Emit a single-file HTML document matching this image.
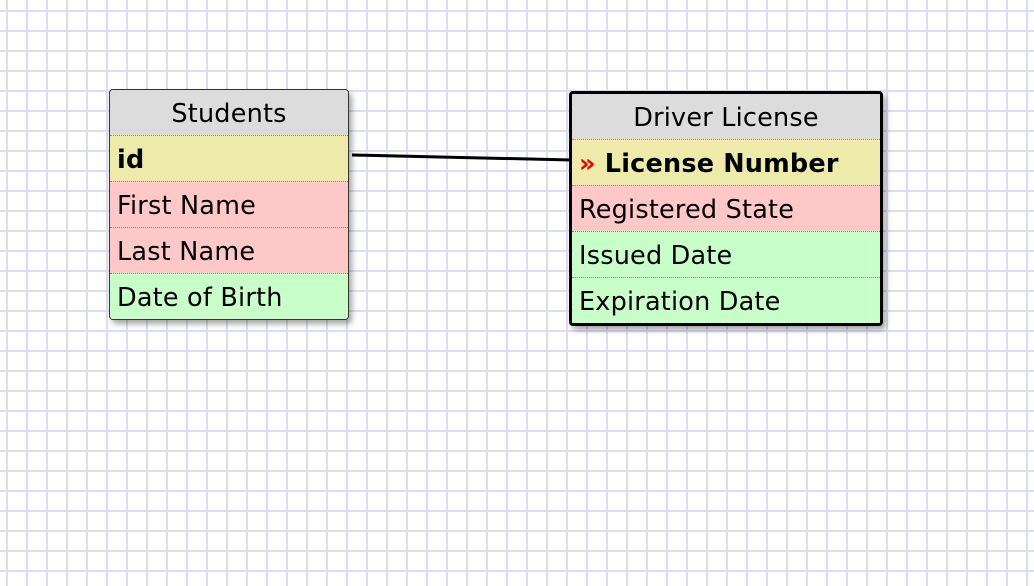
<!DOCTYPE html>
<html><head><style>
body{margin:0;width:1034px;height:586px;overflow:hidden;background-color:#fff;
background-image:linear-gradient(to right,#dcdcf6 2px,transparent 2px),linear-gradient(to bottom,#dcdcf6 2px,transparent 2px);
background-size:20px 20px;background-position:6px 10px;font-family:"DejaVu Sans","Liberation Sans",sans-serif;position:relative}
.t{position:absolute;background:#fff;border-radius:4px;box-shadow:3px 4px 6px rgba(0,0,0,.35);overflow:hidden}
.h{background:#dcdcdc;text-align:center;font-size:25.5px;letter-spacing:0.2px;height:45px;line-height:48px}
.r{height:45px;line-height:48px;font-size:25.5px;letter-spacing:0.2px;padding-left:7px;border-top:1px dotted #888;white-space:nowrap}
.k{background:#eeeaaa;font-weight:bold}.p{background:#ffc8c8}.g{background:#c8ffc8}
</style></head><body>
<svg style="position:absolute;left:0;top:0" width="1034" height="586"><line x1="352" y1="155" x2="572" y2="160" stroke="#000" stroke-width="3"/></svg>
<div class="t" style="left:109px;top:89px;width:238px;border:1px solid #333">
<div class="h">Students</div>
<div class="r k">id</div>
<div class="r p">First Name</div>
<div class="r p">Last Name</div>
<div class="r g">Date of Birth</div>
</div>
<div class="t" style="left:569px;top:91px;width:308px;border:3px solid #000">
<div class="h">Driver License</div>
<div class="r k"><span style="color:#e00">»</span> License Number</div>
<div class="r p">Registered State</div>
<div class="r g">Issued Date</div>
<div class="r g">Expiration Date</div>
</div>
</body></html>
